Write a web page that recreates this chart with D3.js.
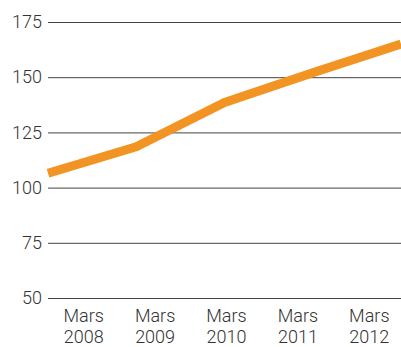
<!DOCTYPE html>
<html>
<head>
<meta charset="utf-8">
<script src="https://cdn.jsdelivr.net/npm/d3@7"></script>
<style>
  body { margin: 0; background: #fff; }
  svg text { font-family: Roboto, "Liberation Sans", sans-serif; font-weight: 300; fill: #333; }
</style>
</head>
<body>
<svg id="drawing_region"></svg>
<script>
const years = ['2008', '2009', '2010', '2011', '2012'];
const month = 'Mars';
const values = [106.5, 118.5, 138.5, 152, 165];
const yticks = [50, 75, 100, 125, 150, 175];

const width = 401, height = 347;
const margin = {top: 22, right: 0, bottom: 49, left: 48};

const svg = d3.select('#drawing_region')
    .attr('width', width)
    .attr('height', height);

const inner_width = width - margin.left - margin.right;
const inner_height = height - margin.top - margin.bottom;

const chart = svg.append('g')
    .attr('transform', `translate(${margin.left}, ${margin.top})`);

const yscale = d3.scaleLinear()
    .domain([50, 175])
    .range([inner_height, 0]);

const xscale = d3.scalePoint()
    .domain(years)
    .range([0, inner_width]);

// labels sit in bands, not on the data points
const xlabels = d3.scaleBand()
    .domain(years)
    .range([0, inner_width + 4]);

// gridlines + y labels
const yaxis = d3.axisLeft(yscale)
    .tickValues(yticks)
    .tickSize(-inner_width)
    .tickPadding(6);

const yaxis_group = chart.append('g').call(yaxis);
yaxis_group.select('.domain').remove();
yaxis_group.selectAll('.tick line')
    .attr('x1', 0)
    .attr('stroke', '#444')
    .attr('stroke-width', 1);
yaxis_group.selectAll('.tick text')
    .attr('x', -6)
    .style('font-size', '18px');

// x labels: two lines each
const xaxis = d3.axisBottom(xlabels)
    .tickSize(0)
    .tickPadding(0)
    .tickFormat('');

const xaxis_group = chart.append('g')
    .attr('transform', `translate(0, ${inner_height})`)
    .call(xaxis);
xaxis_group.select('.domain').remove();
xaxis_group.selectAll('.tick').each(function(d) {
    const t = d3.select(this).append('text')
        .attr('text-anchor', 'middle')
        .style('font-size', '18px');
    t.append('tspan').attr('x', 0).attr('y', 24).text(month);
    t.append('tspan').attr('x', 0).attr('y', 45).text(d);
});

// the line
const line = d3.line()
    .x((d, i) => xscale(years[i]))
    .y(d => yscale(d));

chart.append('path')
    .datum(values)
    .attr('d', line)
    .attr('fill', 'none')
    .attr('stroke', '#F29423')
    .attr('stroke-width', 9)
    .attr('stroke-linejoin', 'round');
</script>
</body>
</html>
